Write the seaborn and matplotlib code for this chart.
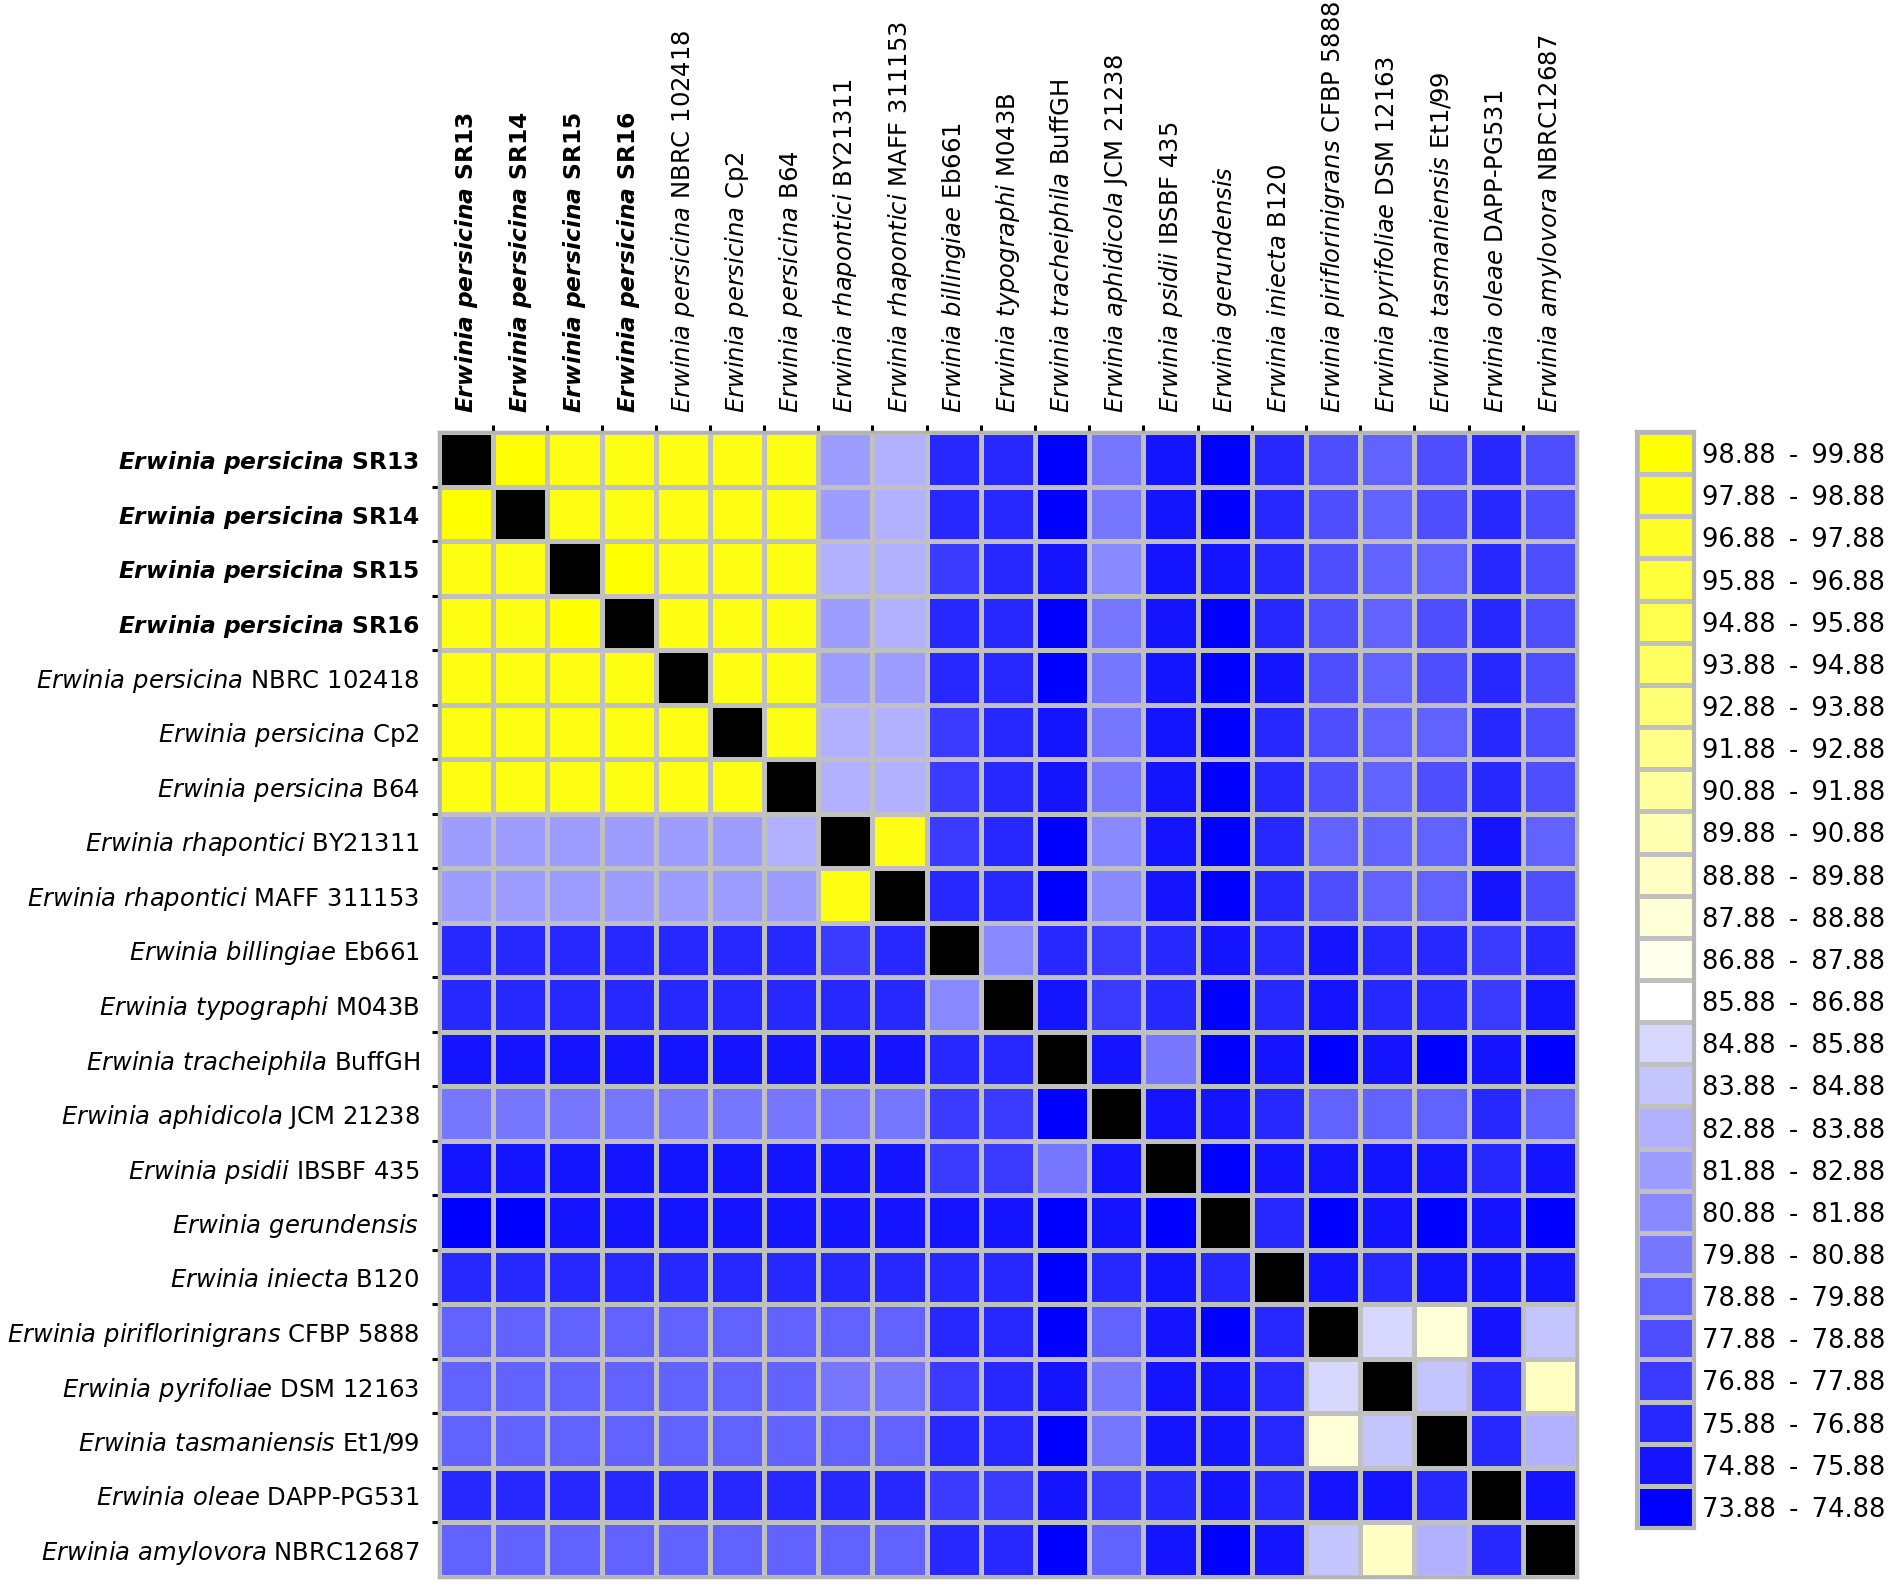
import numpy as np
import pandas as pd
import seaborn as sns
import matplotlib.pyplot as plt
from matplotlib.colors import ListedColormap, BoundaryNorm

# strain names: italic species part + plain strain part
species = ['Erwinia persicina', 'Erwinia persicina', 'Erwinia persicina', 'Erwinia persicina',
           'Erwinia persicina', 'Erwinia persicina', 'Erwinia persicina',
           'Erwinia rhapontici', 'Erwinia rhapontici', 'Erwinia billingiae', 'Erwinia typographi',
           'Erwinia tracheiphila', 'Erwinia aphidicola', 'Erwinia psidii', 'Erwinia gerundensis',
           'Erwinia iniecta', 'Erwinia piriflorinigrans', 'Erwinia pyrifoliae',
           'Erwinia tasmaniensis', 'Erwinia oleae', 'Erwinia amylovora']
strains = ['SR13', 'SR14', 'SR15', 'SR16', 'NBRC 102418', 'Cp2', 'B64',
           'BY21311', 'MAFF 311153', 'Eb661', 'M043B', 'BuffGH', 'JCM 21238', 'IBSBF 435', '',
           'B120', 'CFBP 5888', 'DSM 12163', 'Et1/99', 'DAPP-PG531', 'NBRC12687']
n_bold = 4  # the new isolates are set in bold

# ANI values (%), diagonal = 100
ani_rows = [
    [100, 99.4, 98.4, 98.4, 98.4, 98.4, 98.4, 82.4, 83.3, 76.4, 76.4, 74.4, 80.4, 75.3, 74.4, 76.4, 78.4, 79.3, 78.4, 76.4, 78.4],
    [99.4, 100, 98.4, 98.4, 98.4, 98.4, 98.4, 82.4, 83.3, 76.4, 76.4, 74.4, 80.4, 75.3, 74.4, 76.4, 78.4, 79.3, 78.4, 76.4, 78.4],
    [98.4, 98.4, 100, 99.4, 98.4, 98.4, 98.4, 83.3, 83.3, 77.3, 76.4, 75.3, 81.3, 75.3, 75.3, 76.4, 78.4, 79.3, 79.3, 76.4, 78.4],
    [98.4, 98.4, 99.4, 100, 98.4, 98.4, 98.4, 82.4, 83.3, 76.4, 76.4, 74.4, 80.4, 75.3, 74.4, 76.4, 78.4, 79.3, 78.4, 76.4, 78.4],
    [98.4, 98.4, 98.4, 98.4, 100, 98.4, 98.4, 82.4, 82.4, 76.4, 76.4, 74.4, 80.4, 75.3, 74.4, 75.3, 78.4, 79.3, 78.4, 76.4, 78.4],
    [98.4, 98.4, 98.4, 98.4, 98.4, 100, 98.4, 83.3, 83.3, 77.3, 76.4, 75.3, 80.4, 75.3, 74.4, 76.4, 78.4, 79.3, 79.3, 76.4, 78.4],
    [98.4, 98.4, 98.4, 98.4, 98.4, 98.4, 100, 83.3, 83.3, 77.3, 76.4, 75.3, 80.4, 75.3, 74.4, 76.4, 78.4, 79.3, 78.4, 76.4, 78.4],
    [82.4, 82.4, 82.4, 82.4, 82.4, 82.4, 83.3, 100, 98.4, 77.3, 76.4, 74.4, 81.3, 75.3, 74.4, 76.4, 79.3, 79.3, 79.3, 75.3, 79.3],
    [82.4, 82.4, 82.4, 82.4, 82.4, 82.4, 82.4, 98.4, 100, 76.4, 76.4, 74.4, 81.3, 75.3, 74.4, 76.4, 78.4, 79.3, 79.3, 75.3, 78.4],
    [76.4, 76.4, 76.4, 76.4, 76.4, 76.4, 76.4, 77.3, 76.4, 100, 81.3, 76.4, 77.3, 76.4, 75.3, 76.4, 75.3, 76.4, 76.4, 77.3, 76.4],
    [76.4, 76.4, 76.4, 76.4, 76.4, 76.4, 76.4, 76.4, 76.4, 81.3, 100, 75.3, 77.3, 76.4, 74.4, 76.4, 75.3, 76.4, 76.4, 77.3, 75.3],
    [75.3, 75.3, 75.3, 75.3, 75.3, 75.3, 75.3, 75.3, 75.3, 76.4, 76.4, 100, 75.3, 80.4, 74.4, 75.3, 74.4, 75.3, 74.4, 75.3, 74.4],
    [80.4, 80.4, 80.4, 80.4, 80.4, 80.4, 80.4, 80.4, 80.4, 77.3, 77.3, 74.4, 100, 75.3, 75.3, 76.4, 79.3, 79.3, 79.3, 76.4, 79.3],
    [75.3, 75.3, 75.3, 75.3, 75.3, 75.3, 75.3, 75.3, 75.3, 77.3, 77.3, 80.4, 75.3, 100, 74.4, 75.3, 75.3, 75.3, 75.3, 76.4, 75.3],
    [74.4, 74.4, 75.3, 75.3, 75.3, 75.3, 75.3, 75.3, 75.3, 75.3, 75.3, 74.4, 75.3, 74.4, 100, 76.4, 74.4, 75.3, 74.4, 75.3, 74.4],
    [76.4, 76.4, 76.4, 76.4, 76.4, 76.4, 76.4, 76.4, 76.4, 76.4, 76.4, 74.4, 76.4, 75.3, 76.4, 100, 75.3, 76.4, 75.3, 75.3, 75.3],
    [79.3, 79.3, 79.3, 79.3, 79.3, 79.3, 79.3, 79.3, 79.3, 76.4, 76.4, 74.4, 79.3, 75.3, 74.4, 76.4, 100, 85.3, 88.4, 75.3, 84.4],
    [79.3, 79.3, 79.3, 79.3, 79.3, 79.3, 79.3, 80.4, 80.4, 77.3, 76.4, 75.3, 80.4, 75.3, 75.3, 76.4, 85.3, 100, 84.4, 76.4, 89.4],
    [79.3, 79.3, 79.3, 79.3, 79.3, 79.3, 79.3, 79.3, 79.3, 76.4, 76.4, 74.4, 80.4, 75.3, 75.3, 76.4, 88.4, 84.4, 100, 76.4, 83.3],
    [76.4, 76.4, 76.4, 76.4, 76.4, 76.4, 76.4, 76.4, 76.4, 77.3, 77.3, 75.3, 77.3, 76.4, 75.3, 76.4, 75.3, 75.3, 76.4, 100, 75.3],
    [79.3, 79.3, 79.3, 79.3, 79.3, 79.3, 79.3, 79.3, 79.3, 76.4, 76.4, 74.4, 79.3, 75.3, 74.4, 75.3, 84.4, 89.4, 83.3, 76.4, 100],
]

# legend classes, 1 % wide
bin_lo = 73.88
bin_hi = 99.88

sns.set_style('white')
plt.rcParams['font.family'] = ['DejaVu Sans']
plt.rcParams['text.color'] = 'black'
plt.rcParams['xtick.color'] = 'black'
plt.rcParams['ytick.color'] = 'black'
plt.rcParams['mathtext.fontset'] = 'custom'
plt.rcParams['mathtext.rm'] = 'DejaVu Sans'
plt.rcParams['mathtext.it'] = 'DejaVu Sans:italic'
plt.rcParams['mathtext.bf'] = 'DejaVu Sans:bold'
plt.rcParams['mathtext.bfit'] = 'DejaVu Sans:italic:bold'

# blue -> white -> yellow, one colour per 1 % class
bounds = np.arange(bin_lo, bin_hi + 0.5, 1.0)
cols = []
for i in range(12):
    v = i / 13
    cols.append((v, v, 1.0))
cols.append((1.0, 1.0, 1.0))
for j in range(1, 14):
    cols.append((1.0, 1.0, 1 - j / 13))
cmap = ListedColormap(cols)
cmap.set_over('black')
norm = BoundaryNorm(bounds, cmap.N)

labels = []
for k, (sp, st) in enumerate(zip(species, strains)):
    sp_tex = sp.replace(' ', r'\ ')
    if k < n_bold:
        labels.append(r'$\mathbfit{' + sp_tex + '}$ ' + st)
    else:
        labels.append(r'$\mathit{' + sp_tex + '}$ ' + st)

df = pd.DataFrame(ani_rows, index=labels, columns=labels)

fig = plt.figure(figsize=(19.02, 15.87), dpi=100)
ax = fig.add_axes([0.2308, 0.0063, 0.5983, 0.7215])
sns.heatmap(df, cmap=cmap, norm=norm, linewidths=2.4, linecolor='#c0c0c0',
            cbar=False, xticklabels=False, yticklabels=False, ax=ax)

n = len(labels)
ax.xaxis.tick_top()
ax.set_xticks(np.arange(n) + 0.5)
ax.set_yticks(np.arange(n) + 0.5)
ax.set_xticklabels(labels, rotation=90, fontsize=17.5, ha='center', va='bottom', color='black')
ax.set_yticklabels(labels, rotation=0, fontsize=17.5, color='black')
ax.set_xticks(np.arange(1, n), minor=True)
ax.set_yticks(np.arange(1, n), minor=True)
ax.tick_params(which='major', length=0, pad=14)
ax.tick_params(which='minor', length=5, width=2.2, color='black',
               left=True, top=True, bottom=False, right=False)
for k in range(n_bold):
    for t in (ax.get_xticklabels()[k], ax.get_yticklabels()[k]):
        t.set_fontweight('bold')
        t.set_fontsize(16.8)
for s in ax.spines.values():
    s.set_visible(True)
    s.set_color('#b4b4b4')
    s.set_linewidth(2.5)

# legend of the colour classes
leg_vals = (bounds[:-1] + 0.5)[::-1]
leg_text = ['%.2f \u2009-\u2009 %.2f' % (v - 0.5, v + 0.5) for v in leg_vals]
lax = fig.add_axes([0.8607, 0.0372, 0.030, 0.6906])
sns.heatmap(pd.DataFrame({'c': leg_vals}, index=leg_text), cmap=cmap, norm=norm,
            linewidths=2.4, linecolor='#c0c0c0', cbar=False,
            xticklabels=False, yticklabels=True, ax=lax)
lax.yaxis.tick_right()
lax.set_yticklabels(leg_text, rotation=0, fontsize=18.5, color='black')
lax.tick_params(length=0, pad=6)
lax.set_ylabel('')
for s in lax.spines.values():
    s.set_visible(True)
    s.set_color('#b4b4b4')
    s.set_linewidth(3)

plt.savefig('out.png', dpi=100)
plt.close()
